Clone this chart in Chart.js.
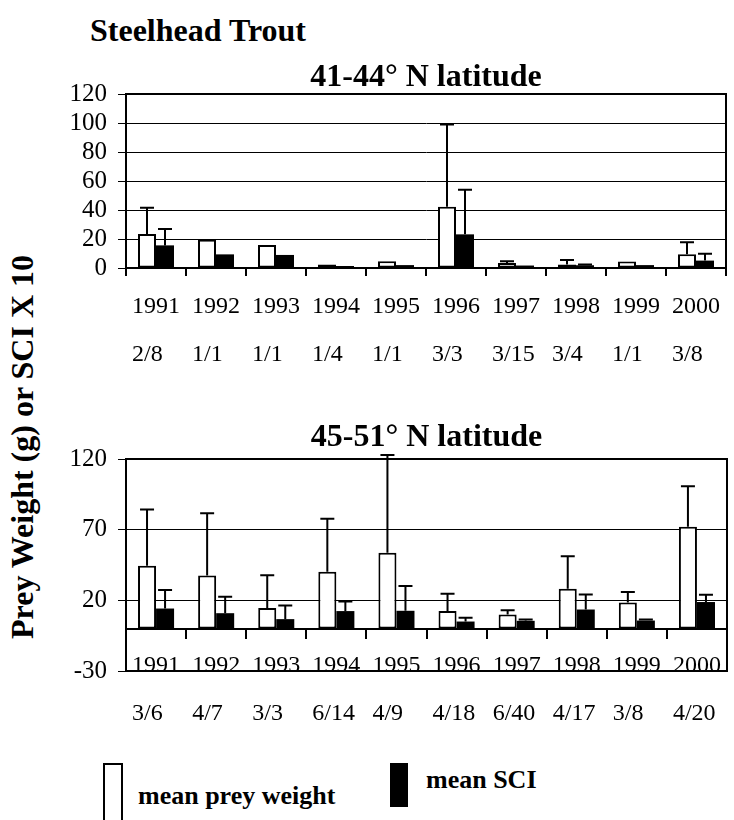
<!DOCTYPE html>
<html>
<head>
<meta charset="utf-8">
<script src="https://cdn.jsdelivr.net/npm/chart.js@4.4.1/dist/chart.umd.min.js"></script>
<style>
  html, body { margin: 0; padding: 0; background: #fff; }
  body { width: 734px; height: 820px; position: relative; overflow: hidden; font-family: "Liberation Serif", "Times New Roman", serif; }
  .box { position: absolute; }
  .txt { position: absolute; font-weight: bold; line-height: 1; white-space: nowrap; color: #000; }
</style>
</head>
<body>
<div class="txt" style="left:90px; top:14px; font-size:32px;">Steelhead Trout</div>
<div class="txt" style="left:22px; top:447px; font-size:32px; transform: translate(-50%, -50%) rotate(-90deg);">Prey Weight (g) or SCI X 10</div>

<div class="box" style="left:0; top:0; width:734px; height:390px;"><canvas id="chartTop"></canvas></div>
<div class="box" style="left:0; top:390px; width:734px; height:370px;"><canvas id="chartBottom"></canvas></div>

<div class="box" style="left:103px; top:763px; width:16px; height:60px; border:2px solid #000; background:#fff;"></div>
<div class="txt" style="left:138px; top:783px; font-size:26px;">mean prey weight</div>
<div class="box" style="left:390px; top:763px; width:18px; height:44px; background:#000;"></div>
<div class="txt" style="left:426px; top:767px; font-size:26px;">mean SCI</div>

<script>
const years = ['1991', '1992', '1993', '1994', '1995', '1996', '1997', '1998', '1999', '2000'];
const nTop = ['2/8', '1/1', '1/1', '1/4', '1/1', '3/3', '3/15', '3/4', '1/1', '3/8'];
const nBottom = ['3/6', '4/7', '3/3', '6/14', '4/9', '4/18', '6/40', '4/17', '3/8', '4/20'];

// 41-44 N
const topPrey = [23.5, 19.5, 15.8, 2.5, 4.6, 42.3, 3.4, 2.5, 4.4, 9.4];
const topPreyErr = [18.1, 0, 0, 0, 0, 56.6, 1.2, 3.0, 0, 8.3];
const topSci = [15.6, 9.4, 9.0, 1.4, 2.0, 23.2, 1.7, 1.9, 2.0, 5.1];
const topSciErr = [11.3, 0, 0, 0, 0, 30.8, 0, 0.6, 0, 4.8];

// 45-51 N
const botPrey = [44.4, 37.5, 14.5, 40.3, 53.6, 12.4, 10.0, 28.2, 18.5, 72.1];
const botPreyErr = [39.8, 44.1, 23.2, 37.5, 69.2, 12.3, 3.0, 23.0, 7.4, 28.7];
const botSci = [14.2, 10.9, 6.7, 12.4, 12.6, 5.0, 5.5, 13.5, 5.7, 18.8];
const botSciErr = [13.1, 11.6, 9.7, 6.8, 17.5, 2.6, 1.0, 10.7, 0.8, 5.2];

const serif = '"Liberation Serif", "Times New Roman", serif';

// error bars (+1 SD) drawn on top of the bars
const errorBars = {
    id: 'errorBars',
    afterDatasetsDraw(chart) {
        const ctx = chart.ctx;
        const y = chart.scales.y;
        ctx.save();
        ctx.strokeStyle = '#000';
        ctx.lineWidth = 2;
        chart.data.datasets.forEach((ds, di) => {
            const meta = chart.getDatasetMeta(di);
            meta.data.forEach((bar, i) => {
                const e = ds.errors[i];
                if (!e) return;
                const x = bar.x;
                const y0 = y.getPixelForValue(ds.data[i]);
                const y1 = y.getPixelForValue(ds.data[i] + e);
                ctx.beginPath();
                ctx.moveTo(x, y0);
                ctx.lineTo(x, y1);
                ctx.moveTo(x - 7, y1);
                ctx.lineTo(x + 7, y1);
                ctx.stroke();
            });
        });
        ctx.restore();
    }
};

// box round the plot area (left side is the y axis)
const frame = {
    id: 'frame',
    afterDraw(chart) {
        const a = chart.chartArea;
        const ctx = chart.ctx;
        ctx.save();
        ctx.strokeStyle = '#000';
        ctx.lineWidth = 2;
        ctx.beginPath();
        ctx.moveTo(a.left, a.top);
        ctx.lineTo(a.right, a.top);
        ctx.lineTo(a.right, a.bottom);
        ctx.lineTo(a.left, a.bottom);
        ctx.stroke();
        ctx.restore();
    }
};

function makeChart(id, cfg) {
    return new Chart(document.getElementById(id), {
        type: 'bar',
        data: {
            labels: years.map((yr, i) => [yr, cfg.counts[i]]),
            datasets: [
                {
                    label: 'mean prey weight',
                    data: cfg.prey,
                    errors: cfg.preyErr,
                    backgroundColor: '#fff',
                    borderColor: '#000',
                    borderWidth: 2,
                    borderSkipped: false,
                    categoryPercentage: 0.6,
                    barPercentage: 1.0
                },
                {
                    label: 'mean SCI',
                    data: cfg.sci,
                    errors: cfg.sciErr,
                    backgroundColor: '#000',
                    borderColor: '#000',
                    borderWidth: 0,
                    categoryPercentage: 0.6,
                    barPercentage: 1.0
                }
            ]
        },
        options: {
            animation: false,
            responsive: true,
            maintainAspectRatio: false,
            layout: { padding: { left: 0, right: cfg.padRight, top: 0, bottom: cfg.padBottom } },
            plugins: {
                legend: { display: false },
                tooltip: { enabled: false },
                title: {
                    display: true,
                    text: cfg.title,
                    fullSize: false,
                    color: '#000',
                    font: { family: serif, size: 32, weight: 'bold', lineHeight: 1 },
                    padding: { top: cfg.titleTop, bottom: cfg.titleBottom }
                }
            },
            scales: {
                x: {
                    position: cfg.xPosition,
                    grid: {
                        display: true,
                        drawOnChartArea: false,
                        drawTicks: true,
                        tickLength: cfg.tickLen,
                        color: '#000',
                        lineWidth: 2
                    },
                    border: { display: true, color: '#000', width: 2 },
                    ticks: {
                        color: '#000',
                        font: { family: serif, size: 24, lineHeight: 2 },
                        align: 'start',
                        labelOffset: -24,
                        padding: cfg.xPad,
                        maxRotation: 0,
                        autoSkip: false
                    },
                    afterFit(s) {
                        if (cfg.xHeight) s.height = cfg.xHeight;
                        s.paddingLeft = 0;
                        s.paddingRight = 0;
                    }
                },
                y: {
                    min: cfg.min,
                    max: cfg.max,
                    grid: { color: '#000', lineWidth: 1, tickLength: 8 },
                    border: { display: true, color: '#000', width: 2 },
                    ticks: {
                        stepSize: cfg.step,
                        autoSkip: false,
                        color: '#000',
                        font: { family: serif, size: 25 },
                        padding: 11
                    },
                    afterFit(s) { s.width = 126; }
                }
            }
        },
        plugins: cfg.plugins
    });
}

makeChart('chartTop', {
    title: '41-44\u00B0 N latitude',
    counts: nTop,
    prey: topPrey, preyErr: topPreyErr, sci: topSci, sciErr: topSciErr,
    min: 0, max: 120, step: 20,
    padRight: 8, padBottom: 0, titleTop: 62, titleBottom: 0,
    xPosition: 'bottom', tickLen: 8, xPad: 7, xHeight: 122,
    plugins: [errorBars, frame]
});

// lower panel: category axis sits on the zero line
makeChart('chartBottom', {
    title: '45-51\u00B0 N latitude',
    counts: nBottom,
    prey: botPrey, preyErr: botPreyErr, sci: botSci, sciErr: botSciErr,
    min: -30, max: 120, step: 50,
    padRight: 7, padBottom: 89, titleTop: 32, titleBottom: 5,
    xPosition: { y: 0 }, tickLen: 9, xPad: 4, xHeight: 0,
    plugins: [errorBars, frame]
});
</script>
</body>
</html>
